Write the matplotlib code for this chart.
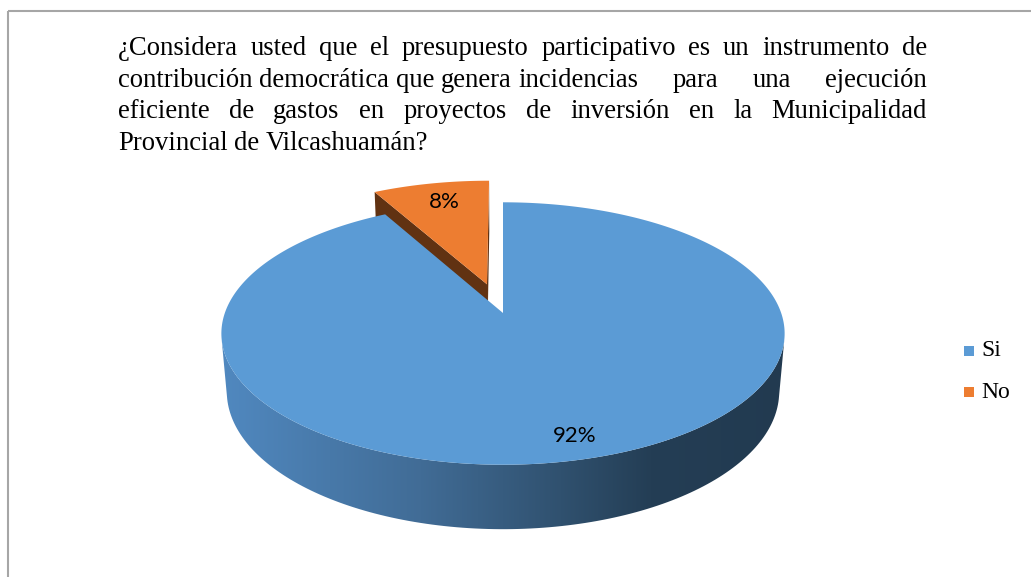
import numpy as np
import matplotlib.pyplot as plt
from matplotlib.patches import Polygon, Rectangle

# data
labels = ['Si', 'No']
values = [92, 8]
pct_labels = ['92%', '8%']
colors = ['#5B9BD5', '#ED7D31']
side_colors = [None, '#613212']   # None -> gradient wall
explode = [0.0, 0.24]
label_r = [0.86, 0.8]

title_lines = [
    ['¿Considera', 'usted', 'que', 'el', 'presupuesto', 'participativo', 'es', 'un', 'instrumento', 'de'],
    ['contribución', 'democrática', 'que', 'genera', 'incidencias', 'para', 'una', 'ejecución'],
    ['eficiente', 'de', 'gastos', 'en', 'proyectos', 'de', 'inversión', 'en', 'la', 'Municipalidad'],
    ['Provincial', 'de', 'Vilcashuamán?'],
]

W, H = 1031, 577
fig = plt.figure(figsize=(W / 100, H / 100), dpi=100)
ax = fig.add_axes([0, 0, 1, 1])
ax.set_xlim(0, W)
ax.set_ylim(H, 0)
ax.axis('off')

# simple perspective camera for the 3D pie
cx, cy = 503, 313
f = 1580.0
D = 5.68
phi = np.radians(27.4)
c, s = np.cos(phi), np.sin(phi)
depth = 0.237
cam = np.array([0.0, -D * c, D * s])


def proj(X, Y, z):
    d = D + Y * c - z * s
    return cx + f * X / d, cy - f * (Y * s + z * c) / d


def face(pts):
    return np.array([proj(*p) for p in pts])


# slice angles, starting at 12 o'clock going clockwise
total = float(sum(values))
slices = []
cum = 90.0
for i, v in enumerate(values):
    t2 = cum
    t1 = cum - 360.0 * v / total
    cum = t1
    mid = np.radians((t1 + t2) / 2)
    ox, oy = explode[i] * np.cos(mid), explode[i] * np.sin(mid)
    slices.append((np.radians(t1), np.radians(t2), ox, oy, mid))

# wall gradient (left light -> right dark)
gx = [225, 420, 560, 650, 790]
gcol = ['#5088bf', '#416c96', '#30516f', '#243e55', '#223a50']
grgb = np.array([[int(h[k:k + 2], 16) / 255 for k in (1, 3, 5)] for h in gcol])
xs = np.arange(W)
grad = np.stack([np.interp(xs, gx, grgb[:, k]) for k in range(3)], axis=-1)[None, :, :]


def draw_slice(i):
    t1, t2, ox, oy, mid = slices[i]
    ts = np.linspace(t1, t2, 300)
    # outer wall
    vis = np.array([np.dot([np.cos(t), np.sin(t), 0], cam - [ox + np.cos(t), oy + np.sin(t), 0]) > 0 for t in ts])
    if vis.any():
        tv = ts[vis]
        top = [(ox + np.cos(t), oy + np.sin(t), 0) for t in tv]
        bot = [(ox + np.cos(t), oy + np.sin(t), -depth) for t in tv[::-1]]
        poly = Polygon(face(top + bot), closed=True, transform=ax.transData)
        if side_colors[i] is None:
            im = ax.imshow(grad, extent=(0, W, H, 0), aspect='auto', zorder=2)
            im.set_clip_path(poly)
        else:
            poly.set_facecolor(side_colors[i])
            poly.set_edgecolor('none')
            poly.set_zorder(2)
            ax.add_patch(poly)
    # radial faces
    for t, nd in ((t1, t1 - np.pi / 2), (t2, t2 + np.pi / 2)):
        n = np.array([np.cos(nd), np.sin(nd), 0])
        if np.dot(n, cam - np.array([ox, oy, 0])) > 1e-6:
            pts = [(ox, oy, 0), (ox + np.cos(t), oy + np.sin(t), 0),
                   (ox + np.cos(t), oy + np.sin(t), -depth), (ox, oy, -depth)]
            col = side_colors[i] if side_colors[i] else '#3f6a93'
            ax.add_patch(Polygon(face(pts), closed=True, facecolor=col, edgecolor='none', zorder=2))
    # top face
    top = [(ox, oy, 0)] + [(ox + np.cos(t), oy + np.sin(t), 0) for t in ts]
    ax.add_patch(Polygon(face(top), closed=True, facecolor=colors[i], edgecolor='none', zorder=2))
    # label
    lx, ly = proj(ox + label_r[i] * np.cos(mid), oy + label_r[i] * np.sin(mid), 0)
    ax.text(lx + 3, ly, pct_labels[i], ha='center', va='center', fontsize=16,
            family='Lato', color='black', zorder=3)


# far slices first
order = sorted(range(len(values)), key=lambda k: -slices[k][3])
for k in order:
    draw_slice(k)

# frame
ax.plot([8, 8], [H, 11], color='#a6a6a6', lw=1.5, solid_capstyle='butt')
ax.plot([8, W], [11, 11], color='#a6a6a6', lw=1.5, solid_capstyle='butt')

# justified title
fig.canvas.draw()
rend = fig.canvas.get_renderer()
tfont = dict(family='Liberation Serif', fontsize=19.2, color='black')
x_left, x_right = 118, 927
baselines = [55, 87, 118, 150]
sp = ax.text(0, 0, 'a a', **tfont)
sp2 = ax.text(0, 0, 'aa', **tfont)
space_w = sp.get_window_extent(rend).width - sp2.get_window_extent(rend).width
sp.remove()
sp2.remove()
for li, words in enumerate(title_lines):
    objs = [ax.text(0, baselines[li], w, ha='left', va='baseline', **tfont) for w in words]
    widths = [o.get_window_extent(rend).width for o in objs]
    ng = len(words) - 1
    if li == len(title_lines) - 1:
        gaps = [space_w] * ng
    elif li == 1:
        big = (x_right - x_left - sum(widths) - 4 * space_w) / 3
        gaps = [space_w] * 4 + [big] * 3
    else:
        g = (x_right - x_left - sum(widths)) / ng
        gaps = [g] * ng
    x = x_left
    for k, o in enumerate(objs):
        o.set_x(x)
        x += widths[k] + (gaps[k] if k < ng else 0)

# legend
leg_y = [351, 392]
for i, lab in enumerate(labels):
    ax.add_patch(Rectangle((964, leg_y[i] - 5), 10, 10, facecolor=colors[i], edgecolor='none'))
    ax.text(981, leg_y[i], lab, ha='left', va='center', family='Liberation Serif', fontsize=17)

fig.savefig('out.png', dpi=100)
